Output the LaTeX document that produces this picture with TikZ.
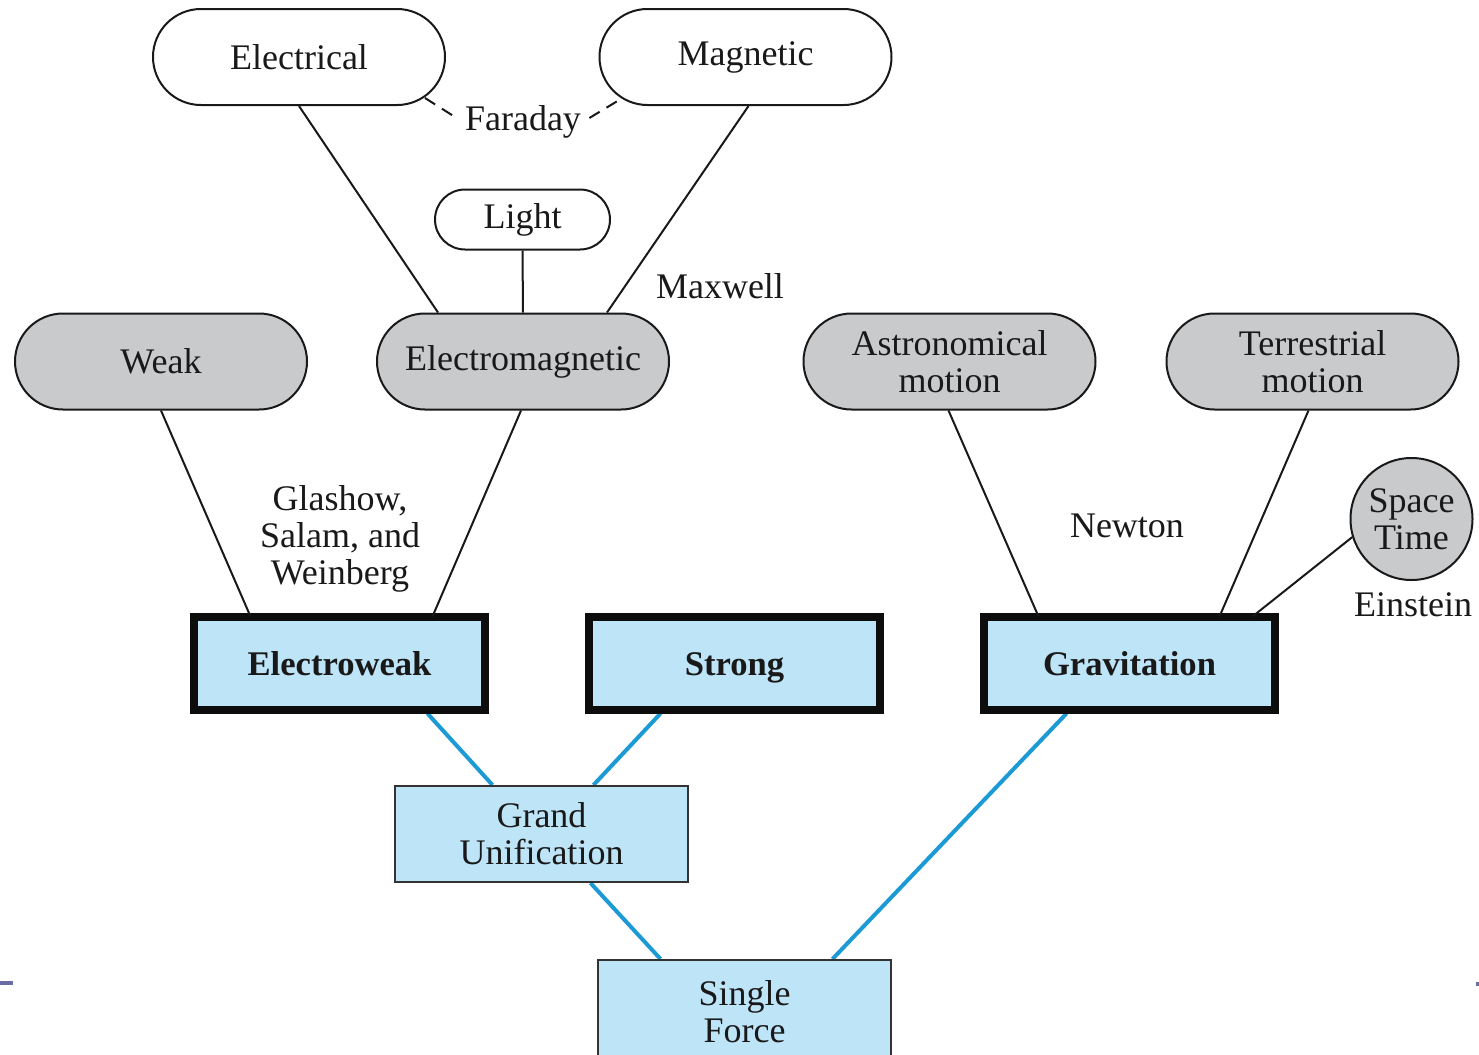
\documentclass[tikz,border=0pt]{standalone}
\usepackage{fontspec}
\setmainfont{Liberation Serif}
\usetikzlibrary{backgrounds}
\definecolor{grayfill}{HTML}{C9CACC}
\definecolor{bluefill}{HTML}{BEE4F8}
\definecolor{blueline}{HTML}{1C9AD6}
\definecolor{slidemark}{HTML}{6B6BA6}
\begin{document}
\begin{tikzpicture}[x=0.5pt,y=-0.5pt,
  every node/.style={font=\fontsize{18}{18.5}\selectfont, align=center, text=black!90},
  pill/.style={draw=black!90, line width=1pt, rounded corners=24pt, minimum width=146pt, minimum height=48pt, inner sep=0pt},
  greypill/.style={pill, fill=grayfill},
  thickbox/.style={draw=black!95, line width=4pt, fill=bluefill, minimum width=145.5pt, minimum height=46.5pt, inner sep=0pt, text height=12.5pt, text depth=0.5pt, font=\fontsize{17.3}{18.5}\selectfont\bfseries},
  thinbox/.style={draw=black!80, line width=1pt, fill=bluefill, minimum width=146.5pt, minimum height=48pt, inner sep=0pt},
  conn/.style={draw=black!90, line width=1pt},
  bconn/.style={draw=blueline, line width=2pt},
  lbl/.style={inner sep=2pt}]
\useasboundingbox (0,0) rectangle (1479,1055);
\clip (0,0) rectangle (1479,1055);

% nodes
\node[pill] (el) at (299,57) {Electrical};
\node[pill] (mag) at (745.5,57) {Magnetic};
\node[pill, rounded corners=15pt, minimum width=87.5pt, minimum height=30pt] (light) at (522.5,219.5) {Light};
\node[greypill] (weak) at (161,361.5) {Weak};
\node[greypill] (em) at (523,361.5) {Electromagnetic};
\node[greypill] (astro) at (949.5,361.5) {Astronomical\\motion};
\node[greypill] (terr) at (1312.5,361.5) {Terrestrial\\motion};
\node[draw=black!90, line width=1pt, fill=grayfill, circle, minimum size=61pt, inner sep=0pt] (st) at (1411.5,519) {Space\\Time};

\node[lbl] (far) at (523,122) {Faraday};
\node[lbl] (max) at (720,286) {Maxwell};
\node[lbl] (newt) at (1127,526) {Newton};
\node[lbl] (gsw) at (340,539) {Glashow,\\Salam, and\\Weinberg};
\node[lbl] (ein) at (1413,605) {Einstein};

\node[thickbox] (ew) at (339.5,663) {Electroweak};
\node[thickbox] (strong) at (734.5,663) {Strong};
\node[thickbox] (grav) at (1129.5,663) {Gravitation};
\node[thinbox] (gu) at (541.5,834) {Grand\\Unification};
\node[thinbox, anchor=north, minimum height=52pt] (sf) at (744.5,959) {Single\\Force};

% connectors
\draw[conn] (el.south) -- ([xshift=-42.5pt]em.north);
\draw[conn] ([xshift=1.5pt]mag.south) -- ([xshift=42pt]em.north);
\draw[conn] (light.south) -- (em.north);
\draw[conn] (weak.south) -- ([xshift=-44.5pt,yshift=-2pt]ew.north);
\draw[conn] ([xshift=-1pt]em.south) -- ([xshift=46.5pt,yshift=-2pt]ew.north);
\draw[conn] ([xshift=-0.5pt]astro.south) -- ([xshift=-45.5pt,yshift=-2pt]grav.north);
\draw[conn] ([xshift=-2pt]terr.south) -- ([xshift=45pt,yshift=-2pt]grav.north);
\draw[conn] (st.-163) -- ([xshift=61.5pt,yshift=-2pt]grav.north);
\draw[conn, dash pattern=on 6pt off 4pt] ([xshift=-10.5pt,yshift=4pt]el.south east) -- ([xshift=-2pt,yshift=2pt]far.west);
\draw[conn, dash pattern=on 6pt off 4pt] ([xshift=2pt,yshift=2pt]far.east) -- ([xshift=12pt,yshift=4pt]mag.south west);

\begin{scope}[on background layer]
\draw[bconn] ([xshift=44pt]ew.south) -- ([xshift=-24.5pt]gu.north);
\draw[bconn] ([xshift=-37pt]strong.south) -- ([xshift=26pt]gu.north);
\draw[bconn] ([xshift=24.5pt]gu.south) -- ([xshift=-42pt]sf.north);
\draw[bconn] ([xshift=-31.5pt]grav.south) -- ([xshift=44pt]sf.north);
\end{scope}

% slide edge marks
\fill[slidemark] (0,981) rectangle (13,985);
\fill[slidemark] (1476,982) rectangle (1479,986);
\end{tikzpicture}
\end{document}
